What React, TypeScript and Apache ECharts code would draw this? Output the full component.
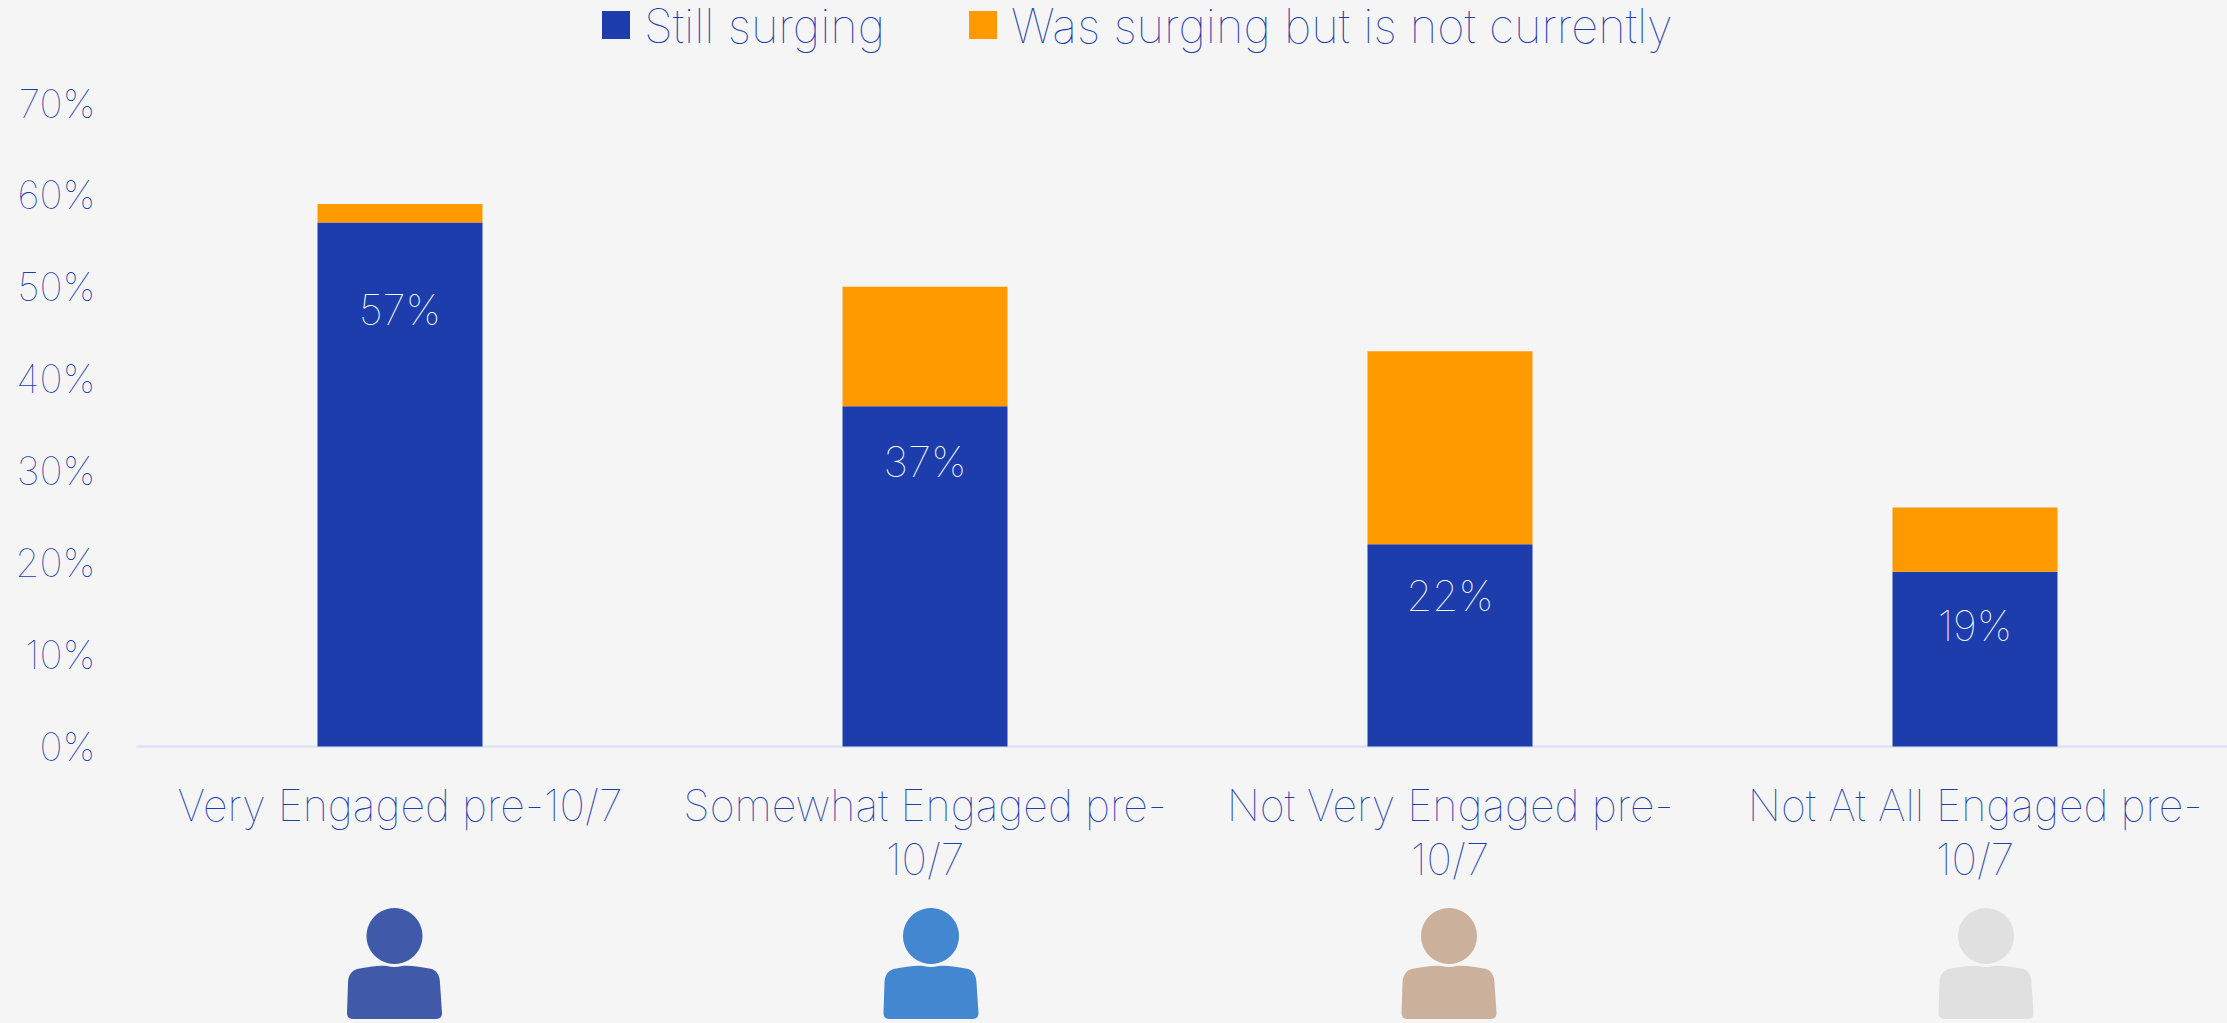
import React, { useEffect, useRef } from "react";
import * as echarts from "echarts";

const categories = [
  "Very Engaged pre-10/7",
  "Somewhat Engaged pre-\n10/7",
  "Not Very Engaged pre-\n10/7",
  "Not At All Engaged pre-\n10/7",
];
const stillSurging = [57, 37, 22, 19];
const wasSurging = [2, 13, 21, 7];
const labelDistances = [66, 34, 30, 33];
const personColors = ["#4159a9", "#4287d0", "#cbb09b", "#e0e0e0"];
const personCenters = [394.5, 931, 1449, 1986];

const FONT = "Inter";
const TEXT = "#1d3dac";
const BODY_D =
  "M10 4 C22 2 32 0 40 1 Q47.5 3 55 1 C63 0 73 2 85 4 C90 6 93 11 93 18 L95 48 C95 52 93 54 89 54 L6 54 C2 54 0 52 0 48 L1 18 C1 11 4 6 10 4 Z";

echarts.graphic.registerShape("personBody", echarts.graphic.extendPath(BODY_D, {}));

export default function App() {
  const ref = useRef<HTMLDivElement>(null);
  useEffect(() => {
    document.body.style.margin = "0";
    document.body.style.background = "#f5f5f5";
    document.body.style.overflow = "hidden";
    const chart = echarts.init(ref.current!, undefined, { renderer: "svg" });
    chart.setOption({
      animation: false,
      backgroundColor: "#f5f5f5",
      textStyle: { fontFamily: FONT, fontWeight: 100 },
      legend: {
        left: 597,
        top: 0,
        padding: [1, 5, 3, 5],
        itemWidth: 28,
        itemHeight: 28,
        itemGap: 84,
        icon: "rect",
        textStyle: { color: TEXT, fontSize: 47, fontFamily: FONT, fontWeight: 100, lineHeight: 44, padding: [0, 0, 4, 9] },
        data: ["Still surging", "Was surging but is not currently"],
      },
      grid: { left: 137.5, width: 2100, top: 103, height: 643.5 },
      xAxis: {
        type: "category",
        data: categories,
        axisTick: { show: false },
        axisLine: { lineStyle: { color: "#dde3f5", width: 2.5 } },
        axisLabel: {
          color: TEXT,
          fontSize: 43,
          fontFamily: FONT,
          fontWeight: 100,
          lineHeight: 54,
          margin: 31,
          interval: 0,
        },
      },
      yAxis: {
        type: "value",
        min: 0,
        max: 70,
        interval: 10,
        axisLine: { show: false },
        axisTick: { show: false },
        splitLine: { show: false },
        axisLabel: {
          color: TEXT,
          fontSize: 39,
          fontFamily: FONT,
          fontWeight: 100,
          margin: 42,
          formatter: "{value}%",
        },
      },
      series: [
        {
          name: "Still surging",
          type: "bar",
          stack: "total",
          barWidth: 165,
          itemStyle: { color: "#1d3dac" },
          data: stillSurging.map((value, i) => ({
            value,
            label: {
              show: true,
              position: "insideTop",
              distance: labelDistances[i],
              formatter: "{c}%",
              color: "#ffffff",
              fontSize: 42,
              fontFamily: FONT,
              fontWeight: 100,
            },
          })),
        },
        {
          name: "Was surging but is not currently",
          type: "bar",
          stack: "total",
          barWidth: 165,
          itemStyle: { color: "#ff9900" },
          data: wasSurging,
        },
      ],
      graphic: personCenters.flatMap((cx, i) => [
        { type: "circle", shape: { cx, cy: 936, r: 28 }, style: { fill: personColors[i] }, silent: true },
        { type: "personBody", x: cx - 47.5, y: 965, style: { fill: personColors[i] }, silent: true },
      ]),
    });
    return () => chart.dispose();
  }, []);
  return (
    <div style={{ width: 2227, height: 1023, overflow: "hidden" }}>
      <div ref={ref} style={{ width: 2245, height: 1023 }} />
    </div>
  );
}
